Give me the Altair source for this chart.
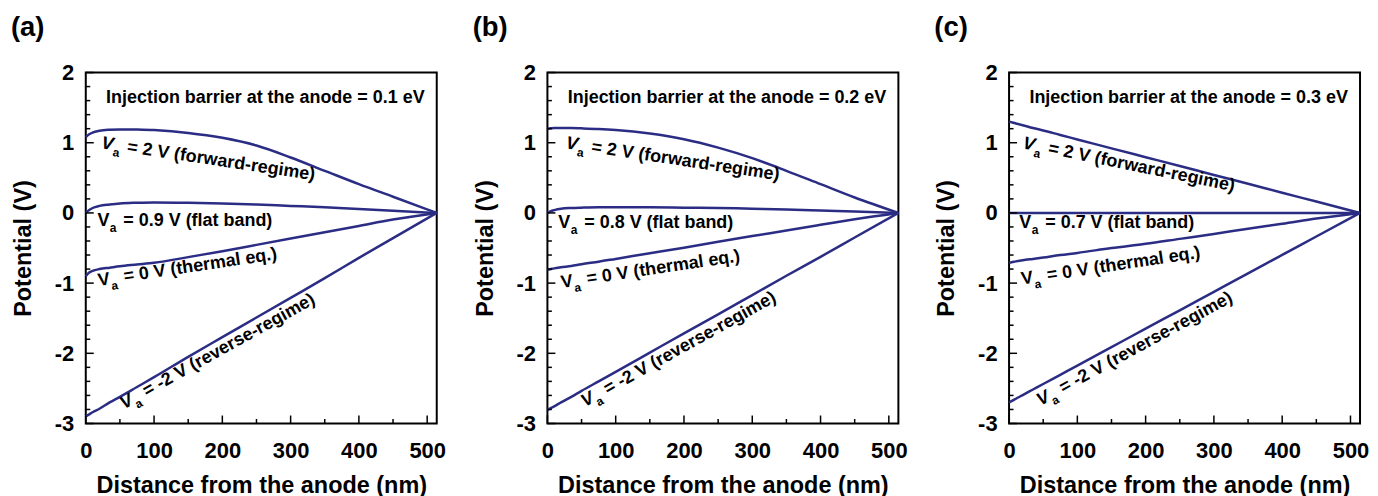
import altair as alt
import pandas as pd

FONT = "Liberation Sans, Arial, Helvetica, sans-serif"
LINE_COLOR = "#2b2d84"

# ---------------- data ----------------
X_NM = [0, 5, 10, 20, 35, 50, 75, 100, 150, 200, 250, 300, 350, 400, 450, 514]

A_FORWARD = [1.08, 1.12, 1.145, 1.17, 1.185, 1.19, 1.19, 1.18, 1.14, 1.07, 0.96, 0.79, 0.60, 0.41, 0.23, 0.0]
A_FLAT = [0.0, 0.04, 0.07, 0.10, 0.12, 0.135, 0.145, 0.15, 0.145, 0.135, 0.12, 0.10, 0.08, 0.055, 0.03, 0.0]
A_THERMAL = [-0.90, -0.85, -0.825, -0.80, -0.78, -0.76, -0.735, -0.71, -0.63, -0.545, -0.455, -0.365, -0.275, -0.185, -0.095, 0.0]
A_REVERSE = [-2.90, -2.87, -2.84, -2.79, -2.70, -2.62, -2.48, -2.34, -2.05, -1.77, -1.49, -1.21, -0.93, -0.64, -0.36, 0.0]

B_FORWARD = [1.20, 1.205, 1.21, 1.21, 1.21, 1.205, 1.195, 1.18, 1.13, 1.05, 0.93, 0.78, 0.60, 0.41, 0.22, 0.0]
B_FLAT = [0.0, 0.025, 0.04, 0.06, 0.07, 0.075, 0.08, 0.08, 0.08, 0.075, 0.07, 0.06, 0.05, 0.035, 0.02, 0.0]
B_THERMAL = [-0.81, -0.80, -0.79, -0.775, -0.755, -0.73, -0.695, -0.655, -0.575, -0.495, -0.41, -0.33, -0.25, -0.17, -0.09, 0.0]
B_REVERSE = [-2.81, -2.78, -2.755, -2.70, -2.62, -2.535, -2.40, -2.265, -1.99, -1.715, -1.445, -1.17, -0.895, -0.625, -0.35, 0.0]

C_FORWARD = [1.30, 1.287, 1.275, 1.25, 1.21, 1.175, 1.11, 1.047, 0.92, 0.794, 0.668, 0.541, 0.415, 0.288, 0.162, 0.0]
C_FLAT = [0.0, 0.0, 0.0, 0.0, 0.0, 0.0, 0.0, 0.0, 0.0, 0.0, 0.0, 0.0, 0.0, 0.0, 0.0, 0.0]
C_THERMAL = [-0.71, -0.70, -0.69, -0.675, -0.655, -0.635, -0.60, -0.57, -0.50, -0.44, -0.37, -0.30, -0.225, -0.155, -0.08, 0.0]
C_REVERSE = [-2.70, -2.674, -2.647, -2.595, -2.516, -2.437, -2.306, -2.175, -1.912, -1.649, -1.387, -1.124, -0.861, -0.599, -0.336, 0.0]

PANEL_TAGS = ["(a)", "(b)", "(c)"]
BARRIER_TEXT = [
    "Injection barrier at the anode = 0.1 eV",
    "Injection barrier at the anode = 0.2 eV",
    "Injection barrier at the anode = 0.3 eV",
]
FLAT_VA = ["0.9", "0.8", "0.7"]
CURVE_NAMES = ["forward", "flat", "thermal", "reverse"]

# curve label anchors (nm, V) and text angles (deg) per panel
LABEL_X = [[22, 17, 19, 56], [26, 16, 21, 55], [19, 15, 19, 46]]
LABEL_Y = [[0.92, -0.19, -1.04, -2.80], [0.92, -0.22, -1.07, -2.77], [0.92, -0.22, -1.02, -2.75]]
LABEL_ANGLE = [[8.5, 0, 351.5, 331], [8.5, 0, 351.5, 331], [11.5, 0, 351.5, 331.5]]
LABEL_ITALIC = [True, False, False, True]

BARRIER_X = 263
BARRIER_Y = 1.57

X_DOMAIN = [0, 514]
Y_DOMAIN = [-3, 2]
X_MAJOR = [0, 100, 200, 300, 400, 500]
X_MINOR = [50, 150, 250, 350, 450]
Y_MAJOR = [-3, -2, -1, 0, 1, 2]
Y_MINOR = [-2.8, -2.6, -2.4, -2.2, -1.8, -1.6, -1.4, -1.2, -0.8, -0.6, -0.4, -0.2,
           0.2, 0.4, 0.6, 0.8, 1.2, 1.4, 1.6, 1.8]

CURVES = [
    [A_FORWARD, A_FLAT, A_THERMAL, A_REVERSE],
    [B_FORWARD, B_FLAT, B_THERMAL, B_REVERSE],
    [C_FORWARD, C_FLAT, C_THERMAL, C_REVERSE],
]

W = 352
H = 352


def label_rests(i):
    return [
        "= 2 V (forward-regime)",
        "= " + FLAT_VA[i] + " V (flat band)",
        "= 0 V (thermal eq.)",
        "= -2 V (reverse-regime)",
    ]


XS = alt.Scale(domain=X_DOMAIN, nice=False, zero=False)
YS = alt.Scale(domain=Y_DOMAIN, nice=False, zero=False)
XAX = alt.Axis(values=X_MAJOR, title="Distance from the anode (nm)",
               ticks=False, domain=False, grid=False, labelFlush=False,
               labelPadding=17.5, titlePadding=12)
YAX = alt.Axis(values=Y_MAJOR, title="Potential (V)", labelExpr="'' + datum.value",
               ticks=False, domain=False, grid=False, labelFlush=False,
               labelPadding=12, titlePadding=19)


def xenc():
    return alt.X("x:Q", scale=XS, axis=XAX)


def yenc():
    return alt.Y("y:Q", scale=YS, axis=YAX)


def build_panel(i):
    rows = []
    for name, ys in zip(CURVE_NAMES, CURVES[i]):
        for xv, yv in zip(X_NM, ys):
            rows.append({"curve": name, "x": xv, "y": yv})
    df = pd.DataFrame(rows)

    lines = alt.Chart(df).mark_line(
        color=LINE_COLOR, strokeWidth=2.5, interpolate="monotone"
    ).encode(x=xenc(), y=yenc(), detail="curve:N")

    ytm = alt.Chart(pd.DataFrame({"y": Y_MAJOR})).mark_rule(color="black", strokeWidth=1.5).encode(
        x=alt.value(0), x2=alt.value(8), y=yenc())
    ytn = alt.Chart(pd.DataFrame({"y": Y_MINOR})).mark_rule(color="black", strokeWidth=1.5).encode(
        x=alt.value(0), x2=alt.value(4.5), y=yenc())
    xtm = alt.Chart(pd.DataFrame({"x": X_MAJOR})).mark_rule(color="black", strokeWidth=1.5).encode(
        y=alt.value(H), y2=alt.value(H - 8), x=xenc())
    xtn = alt.Chart(pd.DataFrame({"x": X_MINOR})).mark_rule(color="black", strokeWidth=1.5).encode(
        y=alt.value(H), y2=alt.value(H - 4.5), x=xenc())

    lbl = pd.DataFrame({
        "x": LABEL_X[i], "y": LABEL_Y[i], "ang": LABEL_ANGLE[i],
        "rest": label_rests(i), "italic": LABEL_ITALIC,
    })
    tstyle = dict(font=FONT, fontWeight="bold", color="black", align="left", baseline="alphabetic")
    ang = alt.Angle("ang:Q", scale=None)
    v_it = alt.Chart(lbl[lbl["italic"]]).mark_text(fontSize=18, fontStyle="italic", **tstyle).encode(
        x=xenc(), y=yenc(), angle=ang, text=alt.value("V"))
    v_up = alt.Chart(lbl[~lbl["italic"]]).mark_text(fontSize=18, **tstyle).encode(
        x=xenc(), y=yenc(), angle=ang, text=alt.value("V"))
    sub = alt.Chart(lbl).mark_text(fontSize=12, dx=12.5, dy=6, **tstyle).encode(
        x=xenc(), y=yenc(), angle=ang, text=alt.value("a"))
    rest = alt.Chart(lbl).mark_text(fontSize=18, dx=26, **tstyle).encode(
        x=xenc(), y=yenc(), angle=ang, text="rest:N")

    barrier = alt.Chart(pd.DataFrame({"x": [BARRIER_X], "y": [BARRIER_Y], "t": [BARRIER_TEXT[i]]})).mark_text(
        font=FONT, fontWeight="bold", fontSize=18, color="black", align="center", baseline="alphabetic"
    ).encode(x=xenc(), y=yenc(), text="t:N")

    tag = alt.Chart(pd.DataFrame({"t": [PANEL_TAGS[i]]})).mark_text(
        font=FONT, fontWeight="bold", fontSize=27.5, color="black", align="left", baseline="alphabetic"
    ).encode(x=alt.value(-75), y=alt.value(-36.5), text="t:N")

    return alt.layer(lines, ytm, ytn, xtm, xtn, v_it, v_up, sub, rest, barrier, tag).properties(
        width=W, height=H)


chart = alt.hconcat(*[build_panel(i) for i in range(3)], spacing=25).properties(
    padding={"top": 4, "left": 2, "right": 0, "bottom": 0}
).configure_view(
    stroke="black", strokeWidth=2
).configure_axis(
    labelFont=FONT, titleFont=FONT, labelFontSize=22, titleFontSize=23.5,
    labelFontWeight="bold", titleFontWeight="bold", labelColor="black", titleColor="black"
)

chart.save("out.html", embed_options={"renderer": "svg", "actions": False})
